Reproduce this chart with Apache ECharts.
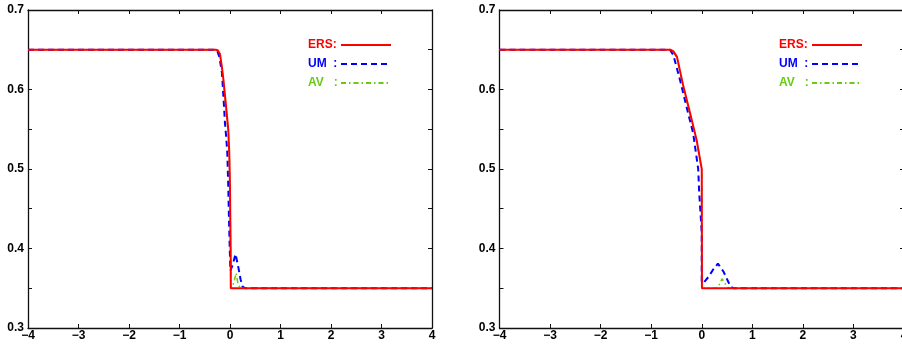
<!DOCTYPE html>
<html>
<head>
<meta charset="utf-8">
<script src="https://cdn.jsdelivr.net/npm/echarts@6/dist/echarts.min.js"></script>
<style>
  html, body { margin: 0; padding: 0; background: #fff; }
  #chart { width: 902px; height: 345px; }
</style>
</head>
<body>
<div id="chart"></div>
<script>
// Left panel: exact Riemann solution (ERS), upwind method (UM), artificial viscosity (AV)
const ersLeft = [
  [-4, 0.65], [-0.28, 0.65], [-0.24, 0.649], [-0.2, 0.645], [-0.16, 0.628],
  [-0.13, 0.612], [-0.1, 0.593], [-0.065, 0.57], [-0.034, 0.549], [-0.014, 0.52],
  [0.0, 0.477], [0.006, 0.436], [0.014, 0.394], [0.016, 0.35], [4, 0.35]
];
const umLeft = [
  [-4, 0.65], [-0.29, 0.65], [-0.25, 0.648], [-0.21, 0.641], [-0.16, 0.621],
  [-0.13, 0.591], [-0.1, 0.558], [-0.075, 0.54], [-0.053, 0.52], [-0.034, 0.477],
  [-0.02, 0.436], [-0.006, 0.402], [0.008, 0.372], [0.05, 0.379], [0.11, 0.393],
  [0.16, 0.378], [0.21, 0.361], [0.25, 0.352], [0.3, 0.35], [4, 0.35]
];
const avLeft = [
  [-4, 0.65], [-0.28, 0.65], [-0.24, 0.649], [-0.2, 0.644], [-0.16, 0.627],
  [-0.13, 0.61], [-0.1, 0.59], [-0.065, 0.567], [-0.034, 0.546], [-0.014, 0.517],
  [0.0, 0.474], [0.006, 0.433], [0.012, 0.39], [0.015, 0.35], [0.05, 0.353],
  [0.08, 0.358], [0.12, 0.369], [0.16, 0.355], [0.21, 0.35], [4, 0.35]
];

// Right panel
const ersRight = [
  [-4, 0.65], [-0.62, 0.65], [-0.56, 0.648], [-0.49, 0.641], [-0.36, 0.603],
  [-0.23, 0.57], [-0.1, 0.536], [-0.02, 0.507], [0.0, 0.5], [0.004, 0.35], [4, 0.35]
];
const umRight = [
  [-4, 0.65], [-0.63, 0.65], [-0.56, 0.643], [-0.43, 0.612], [-0.3, 0.578],
  [-0.17, 0.545], [-0.07, 0.5], [-0.05, 0.47], [-0.02, 0.44], [0.0, 0.42],
  [0.0, 0.357], [0.05, 0.358], [0.13, 0.364], [0.22, 0.373], [0.32, 0.381],
  [0.43, 0.371], [0.51, 0.36], [0.57, 0.352], [0.63, 0.35], [4, 0.35]
];
const avRight = [
  [-4, 0.65], [-0.62, 0.65], [-0.56, 0.647], [-0.49, 0.64], [-0.36, 0.602],
  [-0.23, 0.569], [-0.1, 0.535], [-0.02, 0.506], [0.0, 0.499], [0.003, 0.35],
  [0.28, 0.35], [0.35, 0.355], [0.4, 0.362], [0.46, 0.356], [0.52, 0.351],
  [0.56, 0.35], [4, 0.35]
];

const xTicks = [-4, -3, -2, -1, 0, 1, 2, 3, 4];
const yTickLabels = [0.3, 0.4, 0.5, 0.6, 0.7];
const seriesNames = ['ERS:', 'UM  :', 'AV   :'];

const RED = '#ff0000', BLUE = '#0000ff', GREEN = '#66cc11';
const FONT = '"Liberation Sans", Arial, Helvetica, sans-serif';

const chart = echarts.init(document.getElementById('chart'), null, { renderer: 'canvas' });

function xAxisPair(gi) {
  const base = {
    gridIndex: gi, type: 'value', min: xTicks[0], max: xTicks[xTicks.length - 1], interval: 1,
    axisLine: { show: true, onZero: false, lineStyle: { color: '#111', width: 1.3 } },
    axisTick: { show: true, inside: true, length: 4, lineStyle: { color: '#111', width: 1 } },
    splitLine: { show: false }
  };
  return [
    Object.assign({}, base, {
      position: 'bottom',
      axisLabel: {
        show: true, margin: 2, color: '#000', fontFamily: FONT, fontWeight: 'bold', fontSize: 12,
        formatter: v => (v < 0 ? '\u2212' + Math.abs(v) : String(v))
      }
    }),
    Object.assign({}, base, { position: 'top', axisLabel: { show: false } })
  ];
}

function yAxisPair(gi) {
  const base = {
    gridIndex: gi, type: 'value', min: yTickLabels[0], max: yTickLabels[yTickLabels.length - 1], interval: 0.05,
    axisLine: { show: true, onZero: false, lineStyle: { color: '#111', width: 1.3 } },
    axisTick: { show: true, inside: true, length: 4, lineStyle: { color: '#111', width: 1 } },
    splitLine: { show: false }
  };
  return [
    Object.assign({}, base, {
      position: 'left',
      axisLabel: {
        show: true, margin: 4, color: '#000', fontFamily: FONT, fontWeight: 'bold', fontSize: 12,
        formatter: v => {
          const shown = yTickLabels.some(t => Math.abs(t - v) < 1e-6);
          return shown ? v.toFixed(1) : '';
        }
      }
    }),
    Object.assign({}, base, { position: 'right', axisLabel: { show: false } })
  ];
}

function lineSeries(name, data, gi, color, width, type, z) {
  return {
    name, type: 'line', data, xAxisIndex: gi * 2, yAxisIndex: gi * 2,
    symbol: 'none', showSymbol: false, smooth: false, z,
    lineStyle: { color, width, type },
    itemStyle: { color },
    animation: false
  };
}

function legendAt(left, colors) {
  return {
    orient: 'vertical', left, top: 34, align: 'right',
    itemWidth: 50, itemHeight: 12, itemGap: 7,
    selectedMode: false,
    itemStyle: { opacity: 0 },
    formatter: n => '{t|' + n + '}',
    textStyle: { fontFamily: FONT, fontWeight: 'bold', fontSize: 12 },
    data: seriesNames.map((n, i) => ({
      name: n,
      textStyle: {
        rich: { t: { width: 28, align: 'left', color: colors[i], fontFamily: FONT, fontWeight: 'bold', fontSize: 12 } }
      }
    }))
  };
}

const xs = xAxisPair(0).concat(xAxisPair(1));
const ys = yAxisPair(0).concat(yAxisPair(1));

chart.setOption({
  animation: false,
  backgroundColor: '#fff',
  grid: [
    { left: 28, top: 10, width: 404, height: 318, containLabel: false, outerBoundsMode: 'none' },
    { left: 499.5, top: 10, width: 404.5, height: 318, containLabel: false, outerBoundsMode: 'none' }
  ],
  xAxis: xs,
  yAxis: ys,
  legend: [legendAt(303, [RED, BLUE, GREEN]), legendAt(774, [RED, BLUE, GREEN])],
  series: [
    lineSeries(seriesNames[2], avLeft, 0, GREEN, 1.5, [5, 3, 1.5, 3], 2),
    lineSeries(seriesNames[1], umLeft, 0, BLUE, 2, [6, 4], 3),
    lineSeries(seriesNames[0], ersLeft, 0, RED, 2, 'solid', 4),
    lineSeries(seriesNames[2], avRight, 1, GREEN, 1.5, [5, 3, 1.5, 3], 2),
    lineSeries(seriesNames[1], umRight, 1, BLUE, 2, [6, 4], 3),
    lineSeries(seriesNames[0], ersRight, 1, RED, 2, 'solid', 4)
  ]
});
</script>
</body>
</html>
